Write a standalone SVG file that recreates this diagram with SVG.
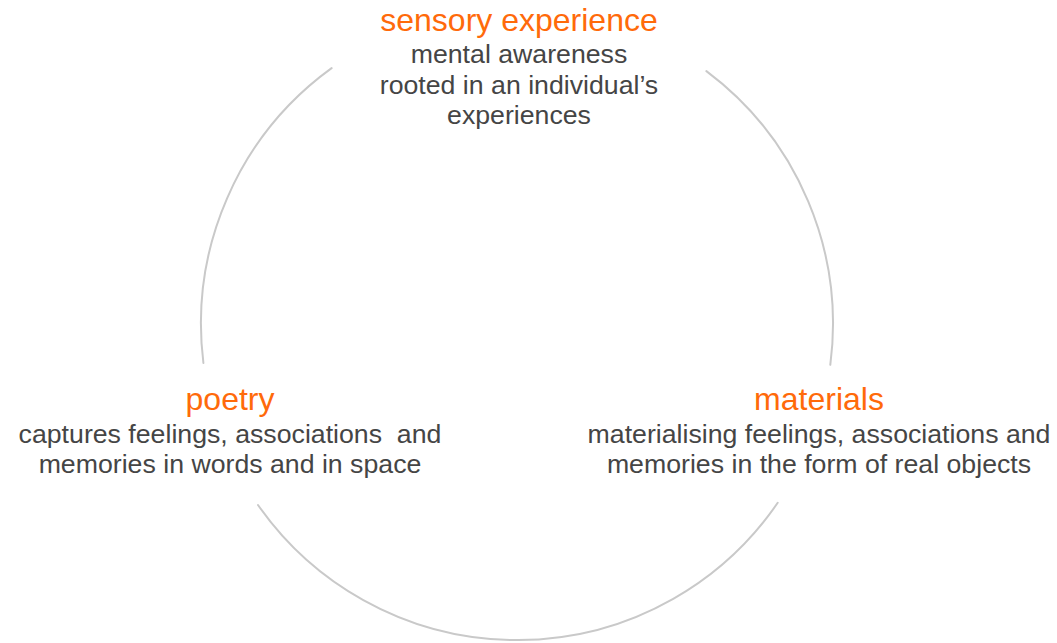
<svg xmlns="http://www.w3.org/2000/svg" width="1057" height="643" viewBox="0 0 1057 643">
<style>
.arc{fill:none;stroke:#c9c9c9;stroke-width:2;stroke-linecap:round}
.t{font-family:"Liberation Sans",Arial,sans-serif;font-size:32px;fill:#ff6a0a;text-anchor:middle}
.d{font-family:"Liberation Sans",Arial,sans-serif;font-size:26.7px;fill:#454545;text-anchor:middle;white-space:pre}
</style>
<rect width="1057" height="643" fill="#ffffff"/>
<g id="connectors">
<path class="arc" d="M331.6,68.1 A316,316 0 0 0 203.4,363"/>
<path class="arc" d="M706.4,71.1 A316,316 0 0 1 830.3,364.8"/>
<path class="arc" d="M258,505 A316,316 0 0 0 777.7,502.8"/>
</g>
<g id="sensory">
<text class="t" x="519" y="31">sensory experience</text>
<text class="d" x="519" y="63">mental awareness</text>
<text class="d" x="519" y="94">rooted in an individual’s</text>
<text class="d" x="519" y="124">experiences</text>
</g>
<g id="poetry">
<text class="t" x="230" y="410">poetry</text>
<text class="d" x="230" y="443" xml:space="preserve">captures feelings, associations  and</text>
<text class="d" x="230" y="473">memories in words and in space</text>
</g>
<g id="materials">
<text class="t" x="819" y="410">materials</text>
<text class="d" x="819" y="443">materialising feelings, associations and</text>
<text class="d" x="819" y="473">memories in the form of real objects</text>
</g>
</svg>
